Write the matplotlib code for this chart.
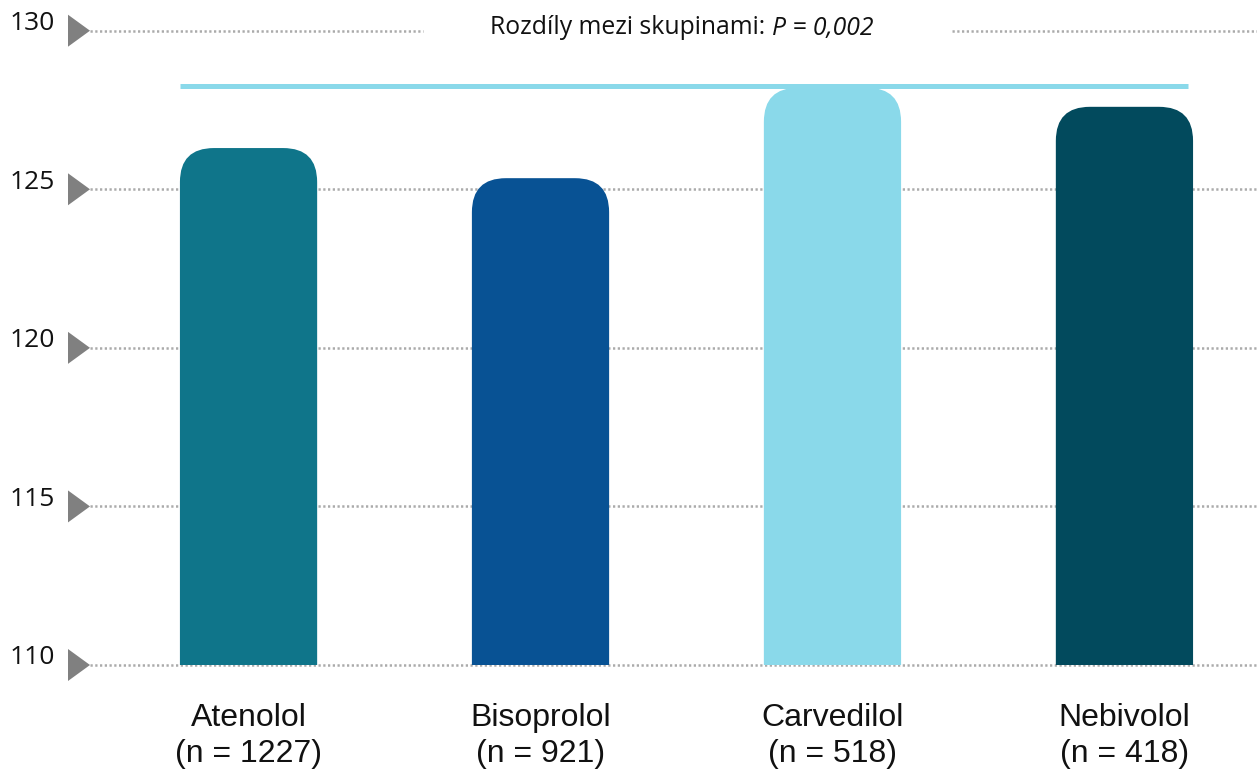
import numpy as np
import matplotlib
matplotlib.use("Agg")
import matplotlib.pyplot as plt
from matplotlib.patches import FancyBboxPatch, Polygon
import matplotlib.transforms as mtransforms

# Mean systolic blood pressure by beta-blocker group
drugs = ["Atenolol", "Bisoprolol", "Carvedilol", "Nebivolol"]
counts = [1227, 921, 518, 418]
values = [126.3, 125.35, 128.2, 127.6]
colors = ["#0f758a", "#085294", "#8ad9ea", "#024a5d"]
y_ticks = [110, 115, 120, 125, 130]
bracket_level = 128.25
p_text_plain = "Rozdíly mezi skupinami: "
p_text_italic = "P = 0,002"

W, H, DPI = 1257, 772, 100
fig = plt.figure(figsize=(W / DPI, H / DPI), dpi=DPI)
ax = fig.add_axes([90 / W, (H - 665) / H, (W - 90) / W, (665 - 30.7) / H])

x = np.arange(len(drugs))
ax.set_xlim(-0.543, 3.454)
ax.set_ylim(110, 130)

grid_kw = dict(color="#ababab", lw=1.8, linestyle=(0, (0.9, 1.0)), zorder=1,
               solid_capstyle="butt", dash_capstyle="butt", clip_on=False)
for yv in y_ticks[:-1]:
    ax.axhline(yv, **grid_kw)
# top gridline is interrupted by the p-value note
top = y_ticks[-1]
ax.plot([0, (423 - 90) / (W - 90)], [top, top], transform=ax.get_yaxis_transform(),
        **grid_kw)
ax.plot([(952 - 90) / (W - 90), 1], [top, top], transform=ax.get_yaxis_transform(),
        **grid_kw)

# bars with rounded top corners
bar_w = 0.47
bars = ax.bar(x, values, width=bar_w, color=colors)
px_per_x = (W - 90) / (3.454 + 0.543)
px_per_y = (665 - 30.7) / 20.0
radius_x = 34 / px_per_x
aspect = px_per_x / px_per_y
for rect, c in zip(bars, colors):
    rect.set_visible(False)
    patch = FancyBboxPatch((rect.get_x(), rect.get_y()), rect.get_width(), rect.get_height(),
                           boxstyle=f"round,pad=0,rounding_size={radius_x}",
                           mutation_aspect=aspect, facecolor=c, edgecolor="none", zorder=2)
    ax.add_patch(patch)

# bracket line across the groups
x_left = bars[0].get_x()
x_right = bars[-1].get_x() + bars[-1].get_width() - 5 / px_per_x
ax.plot([x_left, x_right], [bracket_level, bracket_level], color="#8ad9ea", lw=3.6,
        solid_capstyle="butt", zorder=3)

# p-value note
t1 = fig.text(490 / W, 1 - 28 / H, p_text_plain, family="Open Sans", fontsize=17.8,
              ha="left", va="center", color="#111111")
fig.canvas.draw()
bb = t1.get_window_extent()
fig.text(bb.x1 / W, 1 - 28 / H, p_text_italic, family="Open Sans", style="italic",
         fontsize=17.8, ha="left", va="center", color="#111111")

# axis decorations
for s in ax.spines.values():
    s.set_visible(False)
ax.set_xticks([])
ax.set_yticks([])

ytrans = ax.get_yaxis_transform()
for yv in y_ticks:
    off = mtransforms.ScaledTranslation(0, yv, ytrans)
    tri = Polygon([(-22 / DPI, 16 / DPI), (-22 / DPI, -16 / DPI), (0, 0)], closed=True,
                  transform=fig.dpi_scale_trans + off, facecolor="#808080",
                  edgecolor="none", clip_on=False, zorder=4)
    ax.add_artist(tri)
    ax.text(-35 / (W - 90), yv, str(yv), ha="right", va="center",
            family="Open Sans", fontsize=19, color="#111111",
            transform=ytrans + mtransforms.ScaledTranslation(0, 7 / DPI, fig.dpi_scale_trans))

for xi, d, n in zip(x, drugs, counts):
    ax.text(xi, 110, f"{d}\n(n = {n})", ha="center", va="top",
            family="Liberation Sans", fontsize=23, color="#111111",
            linespacing=1.28,
            transform=ax.transData + mtransforms.ScaledTranslation(0, -38 / DPI, fig.dpi_scale_trans))

fig.savefig("out.png", dpi=DPI)
